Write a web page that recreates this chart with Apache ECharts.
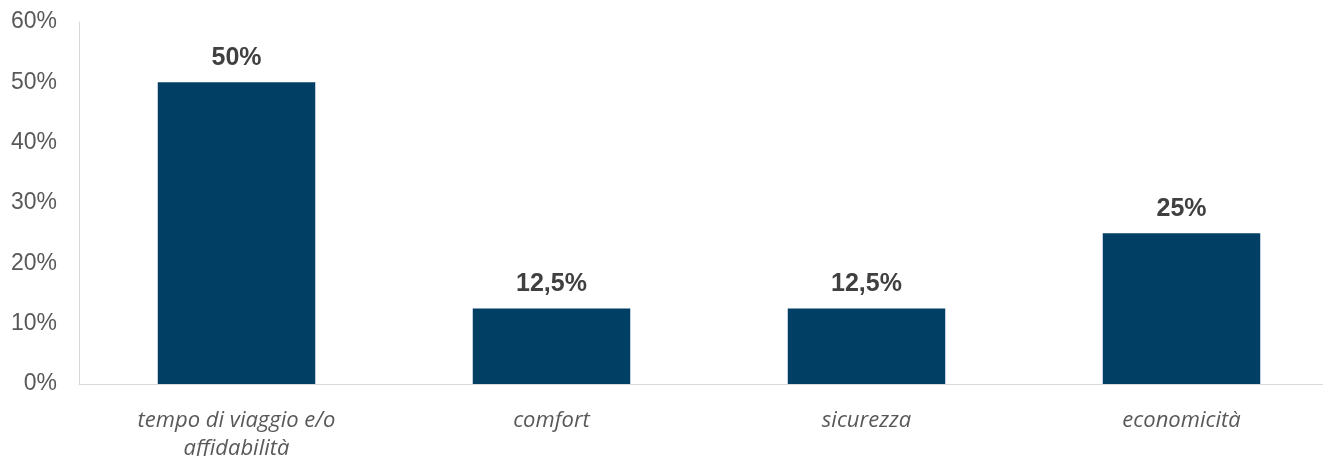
<!DOCTYPE html>
<html>
<head>
<meta charset="utf-8">
<script src="https://cdn.jsdelivr.net/npm/echarts@6/dist/echarts.min.js"></script>
<style>
  html, body { margin: 0; padding: 0; background: #ffffff; }
  #chart { width: 1323px; height: 456px; }
</style>
</head>
<body>
<div id="chart"></div>
<script>
// Motivi di scelta del mezzo di trasporto (% risposte)
const categories = ['tempo di viaggio e/o\naffidabilità', 'comfort', 'sicurezza', 'economicità'];
const values = [50, 12.5, 12.5, 25];
const yTicks = [0, 10, 20, 30, 40, 50, 60];

const fmtPct = v => String(v).replace('.', ',') + '%';

const chart = echarts.init(document.getElementById('chart'), null, { renderer: 'canvas' });
chart.setOption({
  animation: false,
  grid: { left: 79, right: -16, top: 22, bottom: 72, containLabel: false, outerBoundsMode: 'none' },
  xAxis: {
    type: 'category',
    data: categories,
    axisLine: { show: true, lineStyle: { color: '#d9d9d9', width: 1 } },
    axisTick: { show: false },
    axisLabel: {
      interval: 0,
      margin: 23,
      color: '#595959',
      fontFamily: 'Open Sans',
      fontStyle: 'italic',
      fontSize: 22,
      lineHeight: 28
    }
  },
  yAxis: {
    type: 'value',
    min: yTicks[0],
    max: yTicks[yTicks.length - 1],
    interval: yTicks[1] - yTicks[0],
    axisLine: { show: true, lineStyle: { color: '#d9d9d9', width: 1 } },
    axisTick: { show: false },
    splitLine: { show: false },
    axisLabel: {
      margin: 22,
      color: '#595959',
      fontFamily: 'Arial, Liberation Sans, sans-serif',
      fontSize: 23,
      formatter: '{value}%'
    }
  },
  series: [{
    type: 'bar',
    data: values,
    barWidth: '50%',
    itemStyle: { color: '#023f64' },
    label: {
      show: true,
      position: 'top',
      distance: 12,
      color: '#404040',
      fontFamily: 'Arial, Liberation Sans, sans-serif',
      fontWeight: 'bold',
      fontSize: 25,
      formatter: p => fmtPct(p.value)
    }
  }]
});
</script>
</body>
</html>
